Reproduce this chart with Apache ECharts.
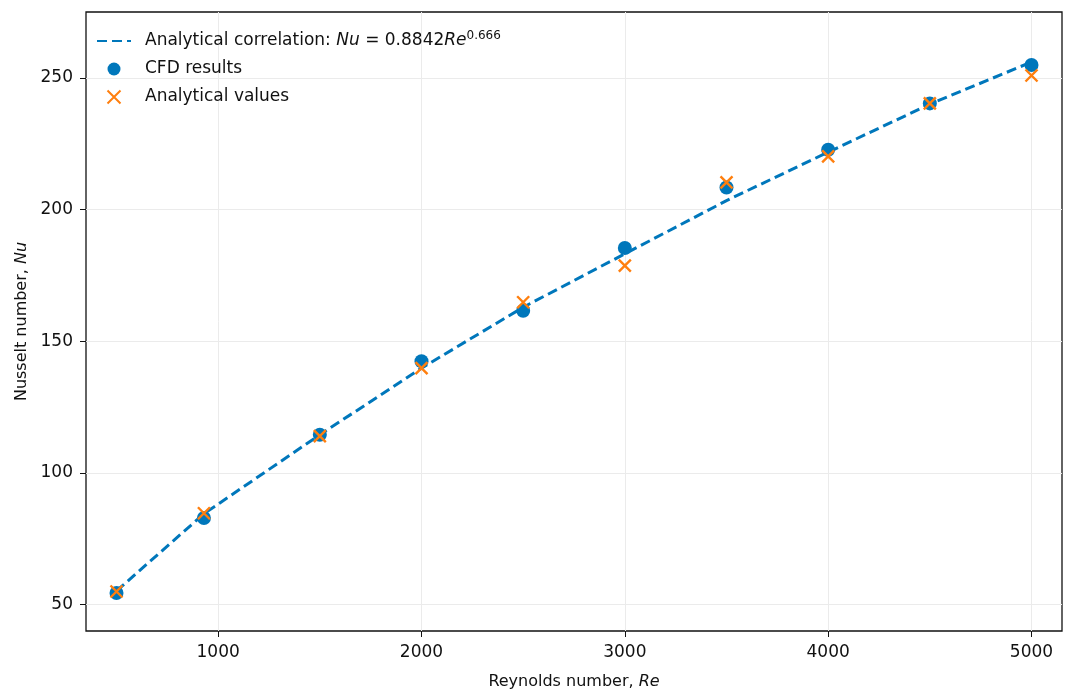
<!DOCTYPE html>
<html>
<head>
<meta charset="utf-8">
<script src="https://cdn.jsdelivr.net/npm/echarts@6/dist/echarts.min.js"></script>
<style>
  html, body { margin: 0; padding: 0; background: #fff; }
  #chart { width: 1078px; height: 699px; }
</style>
</head>
<body>
<div id="chart"></div>
<script>
// Reynolds numbers of the cases
const reValues = [500, 930, 1500, 2000, 2500, 3000, 3500, 4000, 4500, 5000];
// Nusselt number from the CFD runs
const cfdNu = [54.4, 82.9, 114.5, 142.4, 161.6, 185.4, 208.4, 222.7, 240.3, 254.9];
// Nusselt number from the analytical correlation at each case
const analyticalNu = [55.0, 84.7, 114.0, 139.8, 164.8, 178.7, 210.3, 220.2, 240.3, 250.9];
// the dashed correlation curve, read at the same Re values
const curveNu = [55.2, 84.5, 114.5, 139.8, 162.9, 183.2, 203.4, 221.8, 240.0, 256.0];

const xTicks = [1000, 2000, 3000, 4000, 5000];
const yTicks = [50, 100, 150, 200, 250];

const blue = "#0077bb";
const orange = "#ff7f0e";
const font = "DejaVu Sans";

const pairs = (xs, ys) => xs.map((x, i) => [x, ys[i]]);

const chart = echarts.init(document.getElementById("chart"), null, {renderer: "canvas"});

const option = {
  backgroundColor: "#fff",
  animation: false,
  textStyle: {fontFamily: font, color: "#111"},
  grid: {
    left: 86, right: 16, top: 12, bottom: 68,
    show: true, borderColor: "#111", borderWidth: 1.3, backgroundColor: "transparent"
  },
  legend: {
    orient: "vertical",
    left: 91, top: 25,
    itemGap: 11,
    itemWidth: 34, itemHeight: 13,
    textStyle: {
      fontFamily: font, fontSize: 17, color: "#111",
      rich: {
        g: {width: 9},
        a: {fontFamily: font, fontSize: 17, color: "#111"},
        i: {fontFamily: font, fontSize: 17, color: "#111", fontStyle: "italic"},
        s: {fontFamily: font, fontSize: 12, color: "#111", padding: [0, 0, 10, 0]}
      }
    },
    formatter: function (name) {
      if (name === "curve") {
        return "{g|}{a|Analytical correlation: }{i|Nu}{a| = 0.8842}{i|Re}{s|0.666}";
      }
      return "{g|}{a|" + name + "}";
    },
    data: [
      {name: "curve", itemStyle: {opacity: 0}},
      {name: "CFD results"},
      {name: "Analytical values"}
    ]
  },
  xAxis: {
    type: "value",
    min: 350, max: 5150,
    name: "Reynolds number, {i|Re}",
    nameLocation: "middle",
    nameGap: 43,
    nameTextStyle: {
      fontFamily: font, fontSize: 16, color: "#111",
      rich: {i: {fontFamily: font, fontSize: 16, color: "#111", fontStyle: "italic"}}
    },
    axisLine: {show: false},
    axisTick: {show: true, length: 6, lineStyle: {color: "#111", width: 1}, customValues: xTicks},
    axisLabel: {fontFamily: font, fontSize: 17, color: "#111", margin: 13, customValues: xTicks,
      formatter: (v) => String(v)},
    splitLine: {show: true, lineStyle: {color: "#ebebeb", width: 1}}
  },
  yAxis: {
    type: "value",
    min: 40, max: 275,
    name: "Nusselt number, {i|Nu}",
    nameLocation: "middle",
    nameGap: 56,
    nameRotate: 90,
    nameTextStyle: {
      fontFamily: font, fontSize: 16, color: "#111",
      rich: {i: {fontFamily: font, fontSize: 16, color: "#111", fontStyle: "italic"}}
    },
    axisLine: {show: false},
    axisTick: {show: true, length: 6, lineStyle: {color: "#111", width: 1}, customValues: yTicks},
    axisLabel: {fontFamily: font, fontSize: 17, color: "#111", margin: 13, customValues: yTicks,
      formatter: (v) => String(v)},
    splitLine: {show: true, lineStyle: {color: "#ebebeb", width: 1}}
  },
  series: [
    {
      name: "curve",
      type: "line",
      data: pairs(reValues, curveNu),
      symbol: "none",
      showSymbol: false,
      z: 2,
      lineStyle: {color: blue, width: 3, type: [10, 5]},
      itemStyle: {color: blue}
    },
    {
      name: "CFD results",
      type: "scatter",
      data: pairs(reValues, cfdNu),
      symbol: "circle",
      symbolSize: 14,
      z: 3,
      itemStyle: {color: blue, opacity: 1}
    },
    {
      name: "Analytical values",
      type: "scatter",
      data: pairs(reValues, analyticalNu),
      symbol: "path://M0,0 L10,10 M10,0 L0,10",
      symbolSize: 12,
      z: 4,
      itemStyle: {color: "rgba(0,0,0,0)", borderColor: orange, borderWidth: 2.4, opacity: 1}
    }
  ]
};

chart.setOption(option);
</script>
</body>
</html>
